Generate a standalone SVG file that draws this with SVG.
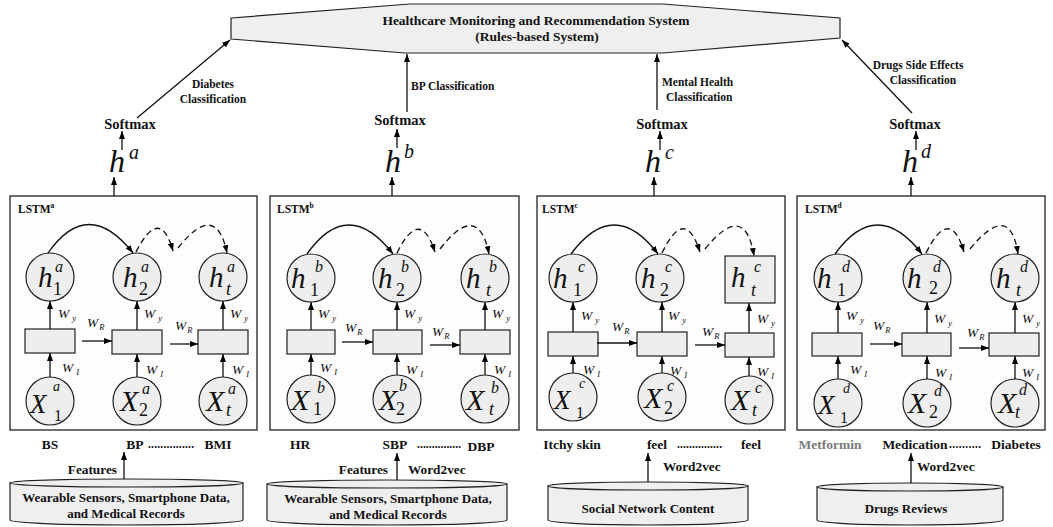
<svg xmlns="http://www.w3.org/2000/svg" width="1053" height="527" viewBox="0 0 1053 527">
  <defs>
    <marker id="ah" viewBox="0 0 8 6" refX="8" refY="3" markerWidth="8" markerHeight="6" orient="auto" markerUnits="userSpaceOnUse">
      <path d="M0,0 L8,3 L0,6 z" fill="#000"/>
    </marker>
    <style>
      .b { font-family: "Liberation Serif", "Times New Roman", serif; font-weight: bold; fill: #111; }
      .title { font-size: 13.5px; }
      .lbl { font-size: 11.5px; }
      .sm { font-size: 14.5px; }
      .bot { font-size: 13.5px; }
      .bot2 { font-size: 13.3px; }
      .db { font-size: 13px; }
      .lstm { font-size: 11.5px; }
      .sup7 { font-size: 7.5px; }
      .m { font-family: "Liberation Serif", "Times New Roman", serif; font-style: italic; fill: #111; }
      .r { font-family: "Liberation Serif", "Times New Roman", serif; fill: #111; }
      .hbig { font-size: 32px; }
      .supbig { font-size: 20px; }
      .hc { font-size: 29px; }
      .xc { font-size: 30px; }
      .xw { font-size: 27px; }
      .hs { font-size: 16px; }
      .hsub { font-size: 18px; }
      .ss { font-size: 14px; }
      .w { font-size: 13.5px; }
      .ws { font-size: 8.5px; }
      .box { fill: #fdfdfd; stroke: #222; stroke-width: 1.3; }
      .cell { fill: #eeeeee; stroke: #222; stroke-width: 1.2; }
      .sys { fill: #efefef; stroke: #222; stroke-width: 1.2; }
      .ln { stroke: #111; stroke-width: 1.3; fill: none; }
      .dash { stroke: #111; stroke-width: 1.3; fill: none; stroke-dasharray: 6 4; }
    </style>
  </defs>

  <!-- rules-based system -->
  <g id="system">
    <polygon class="sys" points="231,18 410,4 663,4 840,18 840,38 663,53 405,53 231,39"/>
    <text class="b title" x="536" y="25" text-anchor="middle">Healthcare Monitoring and Recommendation System</text>
    <text class="b title" x="537" y="41" text-anchor="middle">(Rules-based System)</text>
  </g>

  <!-- softmax outputs -->
  <g id="softmax-a"><text class="b sm" x="130" y="129" text-anchor="middle">Softmax</text></g>
  <g id="softmax-b"><text class="b sm" x="400" y="125" text-anchor="middle">Softmax</text></g>
  <g id="softmax-c"><text class="b sm" x="662" y="129" text-anchor="middle">Softmax</text></g>
  <g id="softmax-d"><text class="b sm" x="915" y="129" text-anchor="middle">Softmax</text></g>

  <!-- final hidden states -->
  <g id="h-a"><text class="m hbig" x="109" y="172">h</text><text class="m supbig" x="129" y="159">a</text></g>
  <g id="h-b"><text class="m hbig" x="385" y="172">h</text><text class="m supbig" x="404" y="158">b</text></g>
  <g id="h-c"><text class="m hbig" x="645" y="172">h</text><text class="m supbig" x="665" y="159">c</text></g>
  <g id="h-d"><text class="m hbig" x="902" y="172">h</text><text class="m supbig" x="921" y="158">d</text></g>

  <!-- LSTM a -->
  <g id="lstm-a">
    <rect class="box" x="10" y="196" width="247" height="234"/>
    <text class="b lstm" x="18" y="213">LSTM<tspan class="sup7" dy="-5">a</tspan></text>
    <g id="a-h1"><circle class="cell" cx="50" cy="277" r="24"/><text class="m hc" x="38" y="287">h</text><text class="m hs" x="55" y="272">a</text><text class="r hsub" x="53" y="295">1</text></g>
    <g id="a-h2"><circle class="cell" cx="137" cy="277" r="24"/><text class="m hc" x="123" y="287">h</text><text class="m hs" x="141" y="272">a</text><text class="r hsub" x="139" y="295">2</text></g>
    <g id="a-ht"><circle class="cell" cx="223" cy="277" r="24"/><text class="m hc" x="209" y="287">h</text><text class="m hs" x="227" y="272">a</text><text class="m hsub" x="226" y="295">t</text></g>
    <g id="a-c1"><rect class="cell" x="25" y="329" width="50" height="24"/></g>
    <g id="a-c2"><rect class="cell" x="112" y="330" width="50" height="24"/></g>
    <g id="a-c3"><rect class="cell" x="198" y="330" width="50" height="24"/></g>
    <g id="a-x1"><circle class="cell" cx="50" cy="401" r="24"/><text class="m xw" x="30" y="413">X</text><text class="m ss" x="53" y="391">a</text><text class="r hs" x="54" y="421">1</text></g>
    <g id="a-x2"><circle class="cell" cx="137" cy="401" r="24"/><text class="m xc" x="120" y="411">X</text><text class="m hs" x="142" y="394">a</text><text class="r hsub" x="139" y="416">2</text></g>
    <g id="a-xt"><circle class="cell" cx="223" cy="401" r="24"/><text class="m xc" x="206" y="411">X</text><text class="m hs" x="228" y="394">a</text><text class="m hsub" x="226" y="416">t</text></g>
  </g>

  <!-- LSTM b -->
  <g id="lstm-b">
    <rect class="box" x="270" y="196" width="249" height="234"/>
    <text class="b lstm" x="277" y="213">LSTM<tspan class="sup7" dy="-5">b</tspan></text>
    <g id="b-h1"><circle class="cell" cx="311" cy="278" r="24"/><text class="m hc" x="291" y="288">h</text><text class="m hs" x="315" y="272">b</text><text class="r hsub" x="310" y="296">1</text></g>
    <g id="b-h2"><circle class="cell" cx="397" cy="278" r="24"/><text class="m hc" x="378" y="288">h</text><text class="m hs" x="401" y="272">b</text><text class="r hsub" x="396" y="296">2</text></g>
    <g id="b-ht"><circle class="cell" cx="485" cy="278" r="24"/><text class="m hc" x="466" y="288">h</text><text class="m hs" x="489" y="272">b</text><text class="m hsub" x="486" y="296">t</text></g>
    <g id="b-c1"><rect class="cell" x="287" y="330" width="48" height="24"/></g>
    <g id="b-c2"><rect class="cell" x="373" y="330" width="49" height="24"/></g>
    <g id="b-c3"><rect class="cell" x="460" y="330" width="50" height="24"/></g>
    <g id="b-x1"><circle class="cell" cx="311" cy="399" r="24"/><text class="m xc" x="291" y="410">X</text><text class="m hs" x="317" y="393">b</text><text class="r hsub" x="313" y="415">1</text></g>
    <g id="b-x2"><circle class="cell" cx="397" cy="399" r="24"/><text class="m xc" x="379" y="410">X</text><text class="m hs" x="399" y="391">b</text><text class="r hsub" x="396" y="415">2</text></g>
    <g id="b-xt"><circle class="cell" cx="485" cy="399" r="24"/><text class="m xc" x="466" y="410">X</text><text class="m hs" x="491" y="393">b</text><text class="m hsub" x="489" y="415">t</text></g>
  </g>

  <!-- LSTM c -->
  <g id="lstm-c">
    <rect class="box" x="537" y="196" width="248" height="234"/>
    <text class="b lstm" x="542" y="213">LSTM<tspan class="sup7" dy="-5">c</tspan></text>
    <g id="c-h1"><circle class="cell" cx="573" cy="278" r="24"/><text class="m hc" x="553" y="288">h</text><text class="m hs" x="578" y="272">c</text><text class="r hsub" x="573" y="296">1</text></g>
    <g id="c-h2"><circle class="cell" cx="660" cy="278" r="24"/><text class="m hc" x="641" y="288">h</text><text class="m hs" x="665" y="272">c</text><text class="r hsub" x="660" y="296">2</text></g>
    <g id="c-ht"><rect class="cell" x="725" y="256" width="50" height="47"/><text class="m hc" x="731" y="287">h</text><text class="m hs" x="754" y="272">c</text><text class="m hsub" x="751" y="296">t</text></g>
    <g id="c-c1"><rect class="cell" x="548" y="332" width="50" height="24"/></g>
    <g id="c-c2"><rect class="cell" x="637" y="332" width="50" height="24"/></g>
    <g id="c-c3"><rect class="cell" x="725" y="333" width="49" height="24"/></g>
    <g id="c-x1"><circle class="cell" cx="573" cy="397" r="24"/><text class="m xw" x="554" y="409">X</text><text class="m ss" x="579" y="388">c</text><text class="r hs" x="576" y="418">1</text></g>
    <g id="c-x2"><circle class="cell" cx="662" cy="397" r="24"/><text class="m xc" x="644" y="408">X</text><text class="m hs" x="667" y="391">c</text><text class="r hsub" x="664" y="414">2</text></g>
    <g id="c-xt"><circle class="cell" cx="749" cy="400" r="24"/><text class="m xc" x="731" y="410">X</text><text class="m hs" x="755" y="393">c</text><text class="m hsub" x="752" y="416">t</text></g>
  </g>

  <!-- LSTM d -->
  <g id="lstm-d">
    <rect class="box" x="797" y="196" width="248" height="234"/>
    <text class="b lstm" x="805" y="213">LSTM<tspan class="sup7" dy="-5">d</tspan></text>
    <g id="d-h1"><circle class="cell" cx="838" cy="278" r="24"/><text class="m hc" x="817" y="288">h</text><text class="m hs" x="842" y="272">d</text><text class="r hsub" x="837" y="296">1</text></g>
    <g id="d-h2"><circle class="cell" cx="927" cy="278" r="24"/><text class="m hc" x="907" y="288">h</text><text class="m hs" x="933" y="272">d</text><text class="r hsub" x="929" y="294">2</text></g>
    <g id="d-ht"><circle class="cell" cx="1015" cy="278" r="24"/><text class="m hc" x="996" y="288">h</text><text class="m hs" x="1020" y="272">d</text><text class="m hsub" x="1016" y="296">t</text></g>
    <g id="d-c1"><rect class="cell" x="812" y="333" width="50" height="23"/></g>
    <g id="d-c2"><rect class="cell" x="902" y="333" width="49" height="23"/></g>
    <g id="d-c3"><rect class="cell" x="989" y="333" width="50" height="23"/></g>
    <g id="d-x1"><circle class="cell" cx="838" cy="403" r="24"/><text class="m xw" x="818" y="414">X</text><text class="m ss" x="843" y="393">d</text><text class="r hs" x="840" y="423">1</text></g>
    <g id="d-x2"><circle class="cell" cx="927" cy="403" r="24"/><text class="m xc" x="908" y="413">X</text><text class="m hs" x="934" y="396">d</text><text class="r hsub" x="929" y="418">2</text></g>
    <g id="d-xt"><circle class="cell" cx="1015" cy="403" r="24"/><text class="m xc" x="998" y="413">X</text><text class="m hs" x="1019" y="395">d</text><text class="m hsub" x="1015" y="418">t</text></g>
  </g>

  <!-- weight labels -->
  <g id="weights">
    <text class="m w" x="58" y="318">W<tspan class="ws" dx="3" dy="3">y</tspan></text>
    <text class="m w" x="62" y="372">W<tspan class="ws" dx="3" dy="3">I</tspan></text>
    <text class="m w" x="87" y="327">W<tspan class="ws" dx="1" dy="3">R</tspan></text>
    <text class="m w" x="144" y="318">W<tspan class="ws" dx="3" dy="3">y</tspan></text>
    <text class="m w" x="146" y="374">W<tspan class="ws" dx="3" dy="3">I</tspan></text>
    <text class="m w" x="175" y="330">W<tspan class="ws" dx="1" dy="3">R</tspan></text>
    <text class="m w" x="230" y="318">W<tspan class="ws" dx="3" dy="3">y</tspan></text>
    <text class="m w" x="232" y="374">W<tspan class="ws" dx="3" dy="3">I</tspan></text>

    <text class="m w" x="318" y="318">W<tspan class="ws" dx="3" dy="3">y</tspan></text>
    <text class="m w" x="320" y="372">W<tspan class="ws" dx="3" dy="3">I</tspan></text>
    <text class="m w" x="345" y="332">W<tspan class="ws" dx="1" dy="3">R</tspan></text>
    <text class="m w" x="404" y="318">W<tspan class="ws" dx="3" dy="3">y</tspan></text>
    <text class="m w" x="406" y="374">W<tspan class="ws" dx="3" dy="3">I</tspan></text>
    <text class="m w" x="432" y="336">W<tspan class="ws" dx="1" dy="3">R</tspan></text>
    <text class="m w" x="492" y="318">W<tspan class="ws" dx="3" dy="3">y</tspan></text>
    <text class="m w" x="494" y="374">W<tspan class="ws" dx="3" dy="3">I</tspan></text>

    <text class="m w" x="581" y="320">W<tspan class="ws" dx="3" dy="3">y</tspan></text>
    <text class="m w" x="583" y="374">W<tspan class="ws" dx="3" dy="3">I</tspan></text>
    <text class="m w" x="612" y="331">W<tspan class="ws" dx="1" dy="3">R</tspan></text>
    <text class="m w" x="668" y="320">W<tspan class="ws" dx="3" dy="3">y</tspan></text>
    <text class="m w" x="670" y="375">W<tspan class="ws" dx="3" dy="3">I</tspan></text>
    <text class="m w" x="702" y="336">W<tspan class="ws" dx="1" dy="3">R</tspan></text>
    <text class="m w" x="757" y="323">W<tspan class="ws" dx="3" dy="3">y</tspan></text>
    <text class="m w" x="757" y="376">W<tspan class="ws" dx="3" dy="3">I</tspan></text>

    <text class="m w" x="846" y="320">W<tspan class="ws" dx="3" dy="3">y</tspan></text>
    <text class="m w" x="850" y="374">W<tspan class="ws" dx="3" dy="3">I</tspan></text>
    <text class="m w" x="873" y="330">W<tspan class="ws" dx="1" dy="3">R</tspan></text>
    <text class="m w" x="934" y="323">W<tspan class="ws" dx="3" dy="3">y</tspan></text>
    <text class="m w" x="935" y="377">W<tspan class="ws" dx="3" dy="3">I</tspan></text>
    <text class="m w" x="967" y="337">W<tspan class="ws" dx="1" dy="3">R</tspan></text>
    <text class="m w" x="1022" y="323">W<tspan class="ws" dx="3" dy="3">y</tspan></text>
    <text class="m w" x="1022" y="377">W<tspan class="ws" dx="3" dy="3">I</tspan></text>
  </g>

  <!-- input tokens -->
  <g id="inputs-a">
    <text class="b bot" x="50" y="449" text-anchor="middle">BS</text>
    <text class="b bot" x="135" y="449" text-anchor="middle">BP</text>
    <text class="b lbl" x="148" y="448" textLength="46">...............</text>
    <text class="b bot" x="218" y="449" text-anchor="middle">BMI</text>
  </g>
  <g id="inputs-b">
    <text class="b bot" x="300" y="449" text-anchor="middle">HR</text>
    <text class="b bot" x="395" y="449" text-anchor="middle">SBP</text>
    <text class="b lbl" x="417" y="448" textLength="44">...............</text>
    <text class="b bot" x="481" y="451" text-anchor="middle">DBP</text>
  </g>
  <g id="inputs-c">
    <text class="b bot" x="572" y="449" text-anchor="middle">Itchy skin</text>
    <text class="b bot" x="657" y="449" text-anchor="middle">feel</text>
    <text class="b lbl" x="677" y="448" textLength="45">...............</text>
    <text class="b bot" x="751" y="449" text-anchor="middle">feel</text>
  </g>
  <g id="inputs-d">
    <text class="b bot" x="830" y="449" text-anchor="middle" style="fill:#7a7a7a">Metformin</text>
    <text class="b bot" x="915" y="449" text-anchor="middle">Medication</text>
    <text class="b lbl" x="949" y="448" textLength="32">..........</text>
    <text class="b bot" x="1016" y="449" text-anchor="middle">Diabetes</text>
  </g>

  <!-- data sources -->
  <g id="source-a">
    <path class="sys" d="M10,483 L10,520 A116.5,5 0 0 0 243,520 L243,483 Z"/>
    <ellipse class="sys" cx="126.5" cy="483" rx="116.5" ry="4"/>
    <text class="b db" x="126" y="502" text-anchor="middle">Wearable Sensors, Smartphone Data,</text>
    <text class="b db" x="126" y="518" text-anchor="middle">and Medical Records</text>
  </g>
  <g id="source-b">
    <path class="sys" d="M267,484 L267,520 A120,5 0 0 0 507,520 L507,484 Z"/>
    <ellipse class="sys" cx="387" cy="484" rx="120" ry="4"/>
    <text class="b db" x="388" y="503" text-anchor="middle">Wearable Sensors, Smartphone Data,</text>
    <text class="b db" x="388" y="519" text-anchor="middle">and Medical Records</text>
  </g>
  <g id="source-c">
    <path class="sys" d="M548,486 L548,520 A100,5 0 0 0 748,520 L748,486 Z"/>
    <ellipse class="sys" cx="648" cy="486" rx="100" ry="4"/>
    <text class="b db" x="648" y="513" text-anchor="middle">Social Network Content</text>
  </g>
  <g id="source-d">
    <path class="sys" d="M817,487 L817,520 A93,5 0 0 0 1003,520 L1003,487 Z"/>
    <ellipse class="sys" cx="910" cy="487" rx="93" ry="4"/>
    <text class="b db" x="906" y="513" text-anchor="middle">Drugs Reviews</text>
  </g>

  <!-- connector labels -->
  <g id="edge-labels">
    <text class="b lbl" x="213" y="88" text-anchor="middle">Diabetes</text>
    <text class="b lbl" x="213" y="103" text-anchor="middle">Classification</text>
    <text class="b lbl" x="411" y="90">BP Classification</text>
    <text class="b lbl" x="662" y="86">Mental Health</text>
    <text class="b lbl" x="666" y="101">Classification</text>
    <text class="b lbl" x="918" y="69" text-anchor="middle">Drugs Side Effects</text>
    <text class="b lbl" x="923" y="84" text-anchor="middle">Classification</text>
    <text class="b bot2" x="117" y="474" text-anchor="end">Features</text>
    <text class="b bot2" x="388" y="474" text-anchor="end">Features</text>
    <text class="b bot2" x="408" y="474">Word2vec</text>
    <text class="b bot2" x="663" y="471">Word2vec</text>
    <text class="b bot2" x="917" y="471">Word2vec</text>
  </g>

  <!-- connectors -->
  <g id="connectors">
    <!-- classification outputs into the system -->
    <line class="ln" x1="137" y1="118" x2="230" y2="40" marker-end="url(#ah)"/>
    <line class="ln" x1="407" y1="112" x2="407" y2="54" marker-end="url(#ah)"/>
    <line class="ln" x1="657" y1="110" x2="657" y2="54" marker-end="url(#ah)"/>
    <line class="ln" x1="912" y1="113" x2="842" y2="40" marker-end="url(#ah)"/>
    <!-- h to softmax -->
    <line class="ln" x1="122" y1="150" x2="122" y2="131" marker-end="url(#ah)"/>
    <line class="ln" x1="397" y1="148" x2="397" y2="129" marker-end="url(#ah)"/>
    <line class="ln" x1="660" y1="150" x2="660" y2="131" marker-end="url(#ah)"/>
    <line class="ln" x1="916" y1="150" x2="916" y2="131" marker-end="url(#ah)"/>
    <!-- LSTM to h -->
    <line class="ln" x1="114" y1="196" x2="114" y2="177" marker-end="url(#ah)"/>
    <line class="ln" x1="392" y1="196" x2="392" y2="177" marker-end="url(#ah)"/>
    <line class="ln" x1="654" y1="196" x2="654" y2="177" marker-end="url(#ah)"/>
    <line class="ln" x1="911" y1="196" x2="911" y2="177" marker-end="url(#ah)"/>
    <!-- sources to tokens -->
    <line class="ln" x1="124" y1="479" x2="124" y2="452" marker-end="url(#ah)"/>
    <line class="ln" x1="397" y1="480" x2="397" y2="453" marker-end="url(#ah)"/>
    <line class="ln" x1="648" y1="482" x2="648" y2="453" marker-end="url(#ah)"/>
    <line class="ln" x1="911" y1="483" x2="911" y2="453" marker-end="url(#ah)"/>

    <!-- block a -->
    <line class="ln" x1="50" y1="377" x2="50" y2="353" marker-end="url(#ah)"/>
    <line class="ln" x1="137" y1="377" x2="137" y2="354" marker-end="url(#ah)"/>
    <line class="ln" x1="223" y1="377" x2="223" y2="354" marker-end="url(#ah)"/>
    <line class="ln" x1="50" y1="329" x2="50" y2="301" marker-end="url(#ah)"/>
    <line class="ln" x1="137" y1="330" x2="137" y2="301" marker-end="url(#ah)"/>
    <line class="ln" x1="223" y1="330" x2="223" y2="301" marker-end="url(#ah)"/>
    <line class="ln" x1="82" y1="341" x2="112" y2="341" marker-end="url(#ah)"/>
    <line class="ln" x1="170" y1="344" x2="198" y2="344" marker-end="url(#ah)"/>
    <path class="ln" d="M48,253 Q88,196 133,253" marker-end="url(#ah)"/>
    <path class="dash" d="M136,252 Q160,205 173,251" marker-end="url(#ah)"/>
    <path class="dash" d="M178,248 Q216,200 227,253" marker-end="url(#ah)"/>

    <!-- block b -->
    <line class="ln" x1="311" y1="375" x2="311" y2="354" marker-end="url(#ah)"/>
    <line class="ln" x1="397" y1="375" x2="397" y2="354" marker-end="url(#ah)"/>
    <line class="ln" x1="485" y1="375" x2="485" y2="354" marker-end="url(#ah)"/>
    <line class="ln" x1="311" y1="330" x2="311" y2="302" marker-end="url(#ah)"/>
    <line class="ln" x1="397" y1="330" x2="397" y2="302" marker-end="url(#ah)"/>
    <line class="ln" x1="485" y1="330" x2="485" y2="302" marker-end="url(#ah)"/>
    <line class="ln" x1="342" y1="342" x2="373" y2="342" marker-end="url(#ah)"/>
    <line class="ln" x1="430" y1="345" x2="460" y2="345" marker-end="url(#ah)"/>
    <path class="ln" d="M307,254 Q348,196 393,254" marker-end="url(#ah)"/>
    <path class="dash" d="M397,253 Q420,206 435,252" marker-end="url(#ah)"/>
    <path class="dash" d="M440,249 Q478,200 489,254" marker-end="url(#ah)"/>

    <!-- block c -->
    <line class="ln" x1="573" y1="373" x2="573" y2="356" marker-end="url(#ah)"/>
    <line class="ln" x1="662" y1="373" x2="662" y2="356" marker-end="url(#ah)"/>
    <line class="ln" x1="749" y1="376" x2="749" y2="357" marker-end="url(#ah)"/>
    <line class="ln" x1="573" y1="332" x2="573" y2="302" marker-end="url(#ah)"/>
    <line class="ln" x1="662" y1="332" x2="662" y2="302" marker-end="url(#ah)"/>
    <line class="ln" x1="749" y1="333" x2="749" y2="303" marker-end="url(#ah)"/>
    <line class="ln" x1="597" y1="343" x2="637" y2="343" marker-end="url(#ah)"/>
    <line class="ln" x1="695" y1="345" x2="725" y2="345" marker-end="url(#ah)"/>
    <path class="ln" d="M571,254 Q614,196 658,254" marker-end="url(#ah)"/>
    <path class="dash" d="M662,253 Q685,205 700,252" marker-end="url(#ah)"/>
    <path class="dash" d="M705,249 Q745,200 754,256" marker-end="url(#ah)"/>

    <!-- block d -->
    <line class="ln" x1="838" y1="379" x2="838" y2="356" marker-end="url(#ah)"/>
    <line class="ln" x1="927" y1="379" x2="927" y2="356" marker-end="url(#ah)"/>
    <line class="ln" x1="1015" y1="379" x2="1015" y2="356" marker-end="url(#ah)"/>
    <line class="ln" x1="838" y1="333" x2="838" y2="302" marker-end="url(#ah)"/>
    <line class="ln" x1="927" y1="333" x2="927" y2="302" marker-end="url(#ah)"/>
    <line class="ln" x1="1015" y1="333" x2="1015" y2="302" marker-end="url(#ah)"/>
    <line class="ln" x1="870" y1="344" x2="902" y2="344" marker-end="url(#ah)"/>
    <line class="ln" x1="959" y1="348" x2="989" y2="348" marker-end="url(#ah)"/>
    <path class="ln" d="M835,254 Q877,196 922,254" marker-end="url(#ah)"/>
    <path class="dash" d="M926,253 Q950,205 964,252" marker-end="url(#ah)"/>
    <path class="dash" d="M970,249 Q1010,200 1018,254" marker-end="url(#ah)"/>
  </g>
</svg>
